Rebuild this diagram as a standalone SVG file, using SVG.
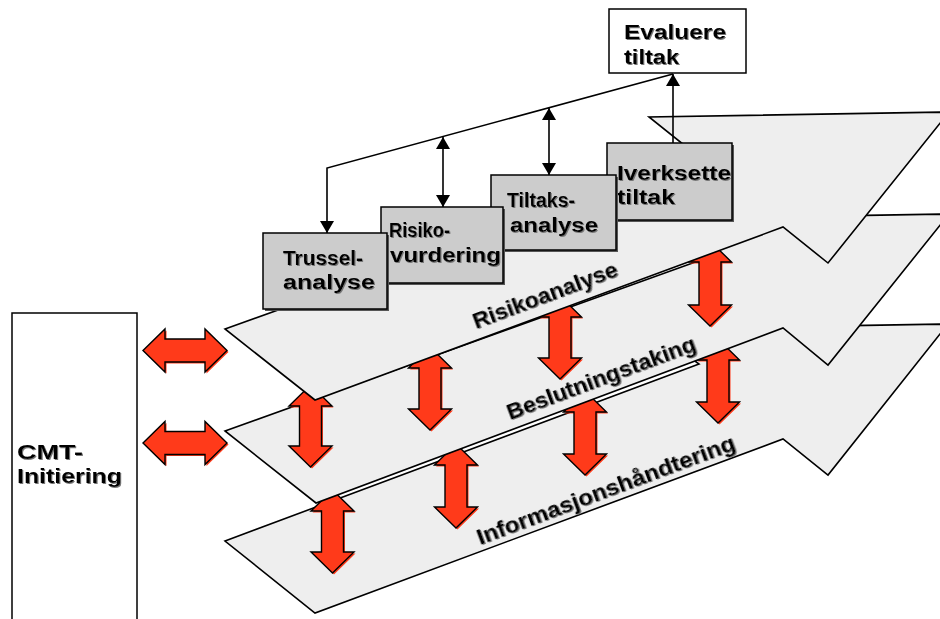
<svg xmlns="http://www.w3.org/2000/svg" width="940" height="619" viewBox="0 0 940 619">
  <defs>
    <style>
      .band { fill: #eeeeee; stroke: #000; stroke-width: 1.6; stroke-linejoin: miter; }
      .box { fill: #cccccc; stroke: #000; stroke-width: 1.5; }
      .boxw { fill: #ffffff; stroke: #000; stroke-width: 1.5; }
      .shadow { fill: #555555; }
      .lbl { font-family: "Liberation Sans", Arial, sans-serif; font-weight: bold; font-size: 20px; fill: #000; }
      .blbl { font-family: "Liberation Sans", Arial, sans-serif; font-weight: bold; font-size: 22px; fill: #000; }
      .red { fill: #ff3a1a; stroke: #000; stroke-width: 1.4; stroke-linejoin: miter; }
      .redsh { fill: #ff3a1a; }
      .conn { fill: none; stroke: #000; stroke-width: 1.6; }
    </style>
    <marker id="ah" viewBox="0 0 12 14" refX="12" refY="7" markerWidth="12" markerHeight="14" markerUnits="userSpaceOnUse" orient="auto-start-reverse">
      <path d="M0,0 L12,7 L0,14 Z" fill="#000"/>
    </marker>
    <filter id="ts" x="-5%" y="-20%" width="110%" height="140%">
      <feOffset in="SourceAlpha" dx="1" dy="1" result="o"/>
      <feFlood flood-color="#777"/>
      <feComposite in2="o" operator="in" result="s"/>
      <feMerge><feMergeNode in="s"/><feMergeNode in="SourceGraphic"/></feMerge>
    </filter>
  </defs>

  <!-- left box -->
  <g id="cmt-initiering">
    <rect class="boxw" x="12" y="313" width="125" height="320"/>
    <text class="lbl" filter="url(#ts)" x="17" y="459" textLength="66" lengthAdjust="spacingAndGlyphs">CMT-</text>
    <text class="lbl" filter="url(#ts)" x="17" y="483" textLength="105" lengthAdjust="spacingAndGlyphs">Initiering</text>
  </g>

  <!-- horizontal double arrows between the left box and the layers -->
  <g id="link-arrows">
    <path class="redsh" transform="translate(1.5,1.5)" d="M143,350.5 L165,329 L165,339 L205,339 L205,329 L227,350.5 L205,372 L205,362 L165,362 L165,372 Z"/>
    <path class="red" d="M143,350.5 L165,329 L165,339 L205,339 L205,329 L227,350.5 L205,372 L205,362 L165,362 L165,372 Z"/>
    <path class="redsh" transform="translate(1.5,1.5)" d="M143,443 L165,421.5 L165,431.5 L205,431.5 L205,421.5 L227,443 L205,464.5 L205,454.5 L165,454.5 L165,464.5 Z"/>
    <path class="red" d="M143,443 L165,421.5 L165,431.5 L205,431.5 L205,421.5 L227,443 L205,464.5 L205,454.5 L165,454.5 L165,464.5 Z"/>
  </g>

  <!-- bottom layer -->
  <g id="informasjonshandtering">
    <polygon class="band" points="225,541 699,364 652,329 948,324 828,475 783,439 315,613"/>
    <text class="blbl" filter="url(#ts)" transform="rotate(-20.5 480 545)" x="480" y="545" textLength="274" lengthAdjust="spacingAndGlyphs">Informasjonshåndtering</text>
  </g>

  <!-- vertical arrows between bottom and middle layer -->
  <g id="arrows-lower">
    <path class="redsh" transform="translate(1.5,1.5)" d="M332.5,490 L354,511 L343.5,511 L343.5,552 L354,552 L332.5,573 L311,552 L321.5,552 L321.5,511 L311,511 Z"/>
    <path class="red" d="M332.5,490 L354,511 L343.5,511 L343.5,552 L354,552 L332.5,573 L311,552 L321.5,552 L321.5,511 L311,511 Z"/>
    <path class="redsh" transform="translate(1.5,1.5)" d="M456,444 L477.5,465 L467,465 L467,507 L477.5,507 L456,528 L434.5,507 L445,507 L445,465 L434.5,465 Z"/>
    <path class="red" d="M456,444 L477.5,465 L467,465 L467,507 L477.5,507 L456,528 L434.5,507 L445,507 L445,465 L434.5,465 Z"/>
    <path class="redsh" transform="translate(1.5,1.5)" d="M585,391 L606.5,412 L596,412 L596,454 L606.5,454 L585,475 L563.5,454 L574,454 L574,412 L563.5,412 Z"/>
    <path class="red" d="M585,391 L606.5,412 L596,412 L596,454 L606.5,454 L585,475 L563.5,454 L574,454 L574,412 L563.5,412 Z"/>
    <path class="redsh" transform="translate(1.5,1.5)" d="M718,339 L739.5,360 L729,360 L729,402 L739.5,402 L718,423 L696.5,402 L707,402 L707,360 L696.5,360 Z"/>
    <path class="red" d="M718,339 L739.5,360 L729,360 L729,402 L739.5,402 L718,423 L696.5,402 L707,402 L707,360 L696.5,360 Z"/>
  </g>

  <!-- middle layer -->
  <g id="beslutningstaking">
    <polygon class="band" points="225,431 701,260 649,219 949,214 828,365 783,328 316,503"/>
    <text class="blbl" filter="url(#ts)" transform="rotate(-20.5 510 420)" x="510" y="420" textLength="200" lengthAdjust="spacingAndGlyphs">Beslutningstaking</text>
  </g>

  <!-- vertical arrows between middle and top layer -->
  <g id="arrows-upper">
    <path class="redsh" transform="translate(1.5,1.5)" d="M310.5,385 L332,406 L321.5,406 L321.5,446 L332,446 L310.5,467 L289,446 L299.5,446 L299.5,406 L289,406 Z"/>
    <path class="red" d="M310.5,385 L332,406 L321.5,406 L321.5,446 L332,446 L310.5,467 L289,446 L299.5,446 L299.5,406 L289,406 Z"/>
    <path class="redsh" transform="translate(1.5,1.5)" d="M430,347 L451.5,368 L441,368 L441,409 L451.5,409 L430,430 L408.5,409 L419,409 L419,368 L408.5,368 Z"/>
    <path class="red" d="M430,347 L451.5,368 L441,368 L441,409 L451.5,409 L430,430 L408.5,409 L419,409 L419,368 L408.5,368 Z"/>
    <path class="redsh" transform="translate(1.5,1.5)" d="M560,296 L581.5,317 L571,317 L571,358 L581.5,358 L560,379 L538.5,358 L549,358 L549,317 L538.5,317 Z"/>
    <path class="red" d="M560,296 L581.5,317 L571,317 L571,358 L581.5,358 L560,379 L538.5,358 L549,358 L549,317 L538.5,317 Z"/>
    <path class="redsh" transform="translate(1.5,1.5)" d="M710,241 L731.5,262 L721,262 L721,305 L731.5,305 L710,326 L688.5,305 L699,305 L699,262 L688.5,262 Z"/>
    <path class="red" d="M710,241 L731.5,262 L721,262 L721,305 L731.5,305 L710,326 L688.5,305 L699,305 L699,262 L688.5,262 Z"/>
  </g>

  <!-- top layer -->
  <g id="risikoanalyse">
    <polygon class="band" points="225,329 701,158.5 649,117 949,112 828,263 783,227 315,400"/>
    <text class="blbl" filter="url(#ts)" transform="rotate(-20.5 476 329)" x="476" y="329" textLength="153" lengthAdjust="spacingAndGlyphs">Risikoanalyse</text>
  </g>

  <!-- connectors of the process steps -->
  <g id="connectors">
    <polyline class="conn" points="673,74 327,168 327,233" marker-end="url(#ah)"/>
    <line class="conn" x1="443" y1="137" x2="443" y2="207" marker-start="url(#ah)" marker-end="url(#ah)"/>
    <line class="conn" x1="549" y1="108" x2="549" y2="175" marker-start="url(#ah)" marker-end="url(#ah)"/>
    <line class="conn" x1="673" y1="143" x2="673" y2="74" marker-end="url(#ah)"/>
  </g>

  <!-- process steps -->
  <g id="evaluere-tiltak">
    <rect class="boxw" x="609" y="9" width="137" height="64"/>
    <text class="lbl" filter="url(#ts)" x="624" y="39" textLength="102" lengthAdjust="spacingAndGlyphs">Evaluere</text>
    <text class="lbl" filter="url(#ts)" x="624" y="64" textLength="55" lengthAdjust="spacingAndGlyphs">tiltak</text>
  </g>

  <g id="iverksette-tiltak">
    <rect class="shadow" x="609" y="145" width="125" height="77"/>
    <rect class="box" x="607" y="143" width="125" height="77"/>
    <text class="lbl" filter="url(#ts)" x="617" y="180" textLength="114" lengthAdjust="spacingAndGlyphs">Iverksette</text>
    <text class="lbl" filter="url(#ts)" x="617" y="204" textLength="58" lengthAdjust="spacingAndGlyphs">tiltak</text>
  </g>

  <g id="tiltaksanalyse">
    <rect class="shadow" x="493" y="177" width="125" height="75"/>
    <rect class="box" x="491" y="175" width="125" height="75"/>
    <text class="lbl" filter="url(#ts)" x="507" y="207" textLength="68" lengthAdjust="spacingAndGlyphs">Tiltaks-</text>
    <text class="lbl" filter="url(#ts)" x="510" y="232" textLength="88" lengthAdjust="spacingAndGlyphs">analyse</text>
  </g>

  <g id="risikovurdering">
    <rect class="shadow" x="383" y="209" width="122" height="76"/>
    <rect class="box" x="381" y="207" width="122" height="76"/>
    <text class="lbl" filter="url(#ts)" x="389" y="237" textLength="61" lengthAdjust="spacingAndGlyphs">Risiko-</text>
    <text class="lbl" filter="url(#ts)" x="390" y="262" textLength="111" lengthAdjust="spacingAndGlyphs">vurdering</text>
  </g>

  <g id="trusselanalyse">
    <rect class="shadow" x="265" y="235" width="124" height="76"/>
    <rect class="box" x="263" y="233" width="124" height="76"/>
    <text class="lbl" filter="url(#ts)" x="283" y="265" textLength="80" lengthAdjust="spacingAndGlyphs">Trussel-</text>
    <text class="lbl" filter="url(#ts)" x="283" y="289" textLength="92" lengthAdjust="spacingAndGlyphs">analyse</text>
  </g>
</svg>
